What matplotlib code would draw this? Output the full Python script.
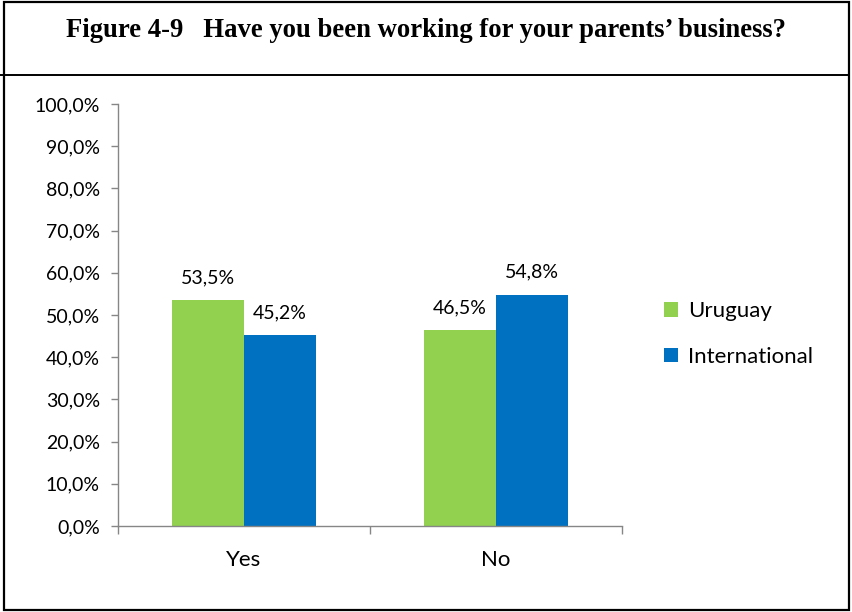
import matplotlib
matplotlib.use("Agg")
import matplotlib.pyplot as plt
from matplotlib.patches import Rectangle
from matplotlib.lines import Line2D
import numpy as np

categories = ["Yes", "No"]
uruguay = [53.5, 46.5]
international = [45.2, 54.8]
series_names = ["Uruguay", "International"]
yticks = [0, 10, 20, 30, 40, 50, 60, 70, 80, 90, 100]
title = "Figure 4-9   Have you been working for your parents\u2019 business?"

GREEN = "#92D050"
BLUE = "#0070C0"
AXIS = "#868686"
W, H = 852, 612

fig = plt.figure(figsize=(W / 100, H / 100), dpi=100)

# frame around the figure and the title strip
fig.add_artist(Rectangle((4 / W, 2 / H), (849 - 4) / W, (610 - 2) / H,
                         transform=fig.transFigure, fill=False,
                         edgecolor="black", linewidth=1.6))
fig.add_artist(Line2D([0 / W, 849 / W], [1 - 75 / H, 1 - 75 / H],
                      transform=fig.transFigure, color="black", linewidth=1.4))
fig.text(426 / W, 1 - 37 / H, title, ha="center", va="baseline",
         family="Liberation Serif", fontweight="bold", fontsize=19.2)

ax = fig.add_axes([118 / W, 1 - 526 / H, (622 - 118) / W, (526 - 104) / H])

x = np.arange(len(categories))
bw = 0.2857
b1 = ax.bar(x - bw / 2, uruguay, bw, color=GREEN, label=series_names[0])
b2 = ax.bar(x + bw / 2, international, bw, color=BLUE, label=series_names[1])

font = "Lato"
for bars, vals in ((b1, uruguay), (b2, international)):
    for r, v in zip(bars, vals):
        ax.annotate(f"{v:.1f}%".replace(".", ","),
                    (r.get_x() + r.get_width() / 2, v),
                    xytext=(0, 10), textcoords="offset points",
                    ha="center", va="bottom", family=font, fontsize=14,
                    color="black")

ax.set_xlim(-0.5, len(categories) - 0.5)
ax.set_ylim(0, 100)
ax.set_yticks(yticks)
ax.set_yticklabels([f"{t:.1f}%".replace(".", ",") for t in yticks],
                   family=font, fontsize=14)
ax.set_xticks(x)
ax.set_xticklabels(categories, family=font, fontsize=16)
ax.tick_params(axis="x", length=0, pad=17)
ax.tick_params(axis="y", length=5, color=AXIS, width=1, pad=8)
# category boundary ticks on the x-axis
ax.set_xticks([-0.5, 0.5, 1.5], minor=True)
ax.tick_params(axis="x", which="minor", length=6, color=AXIS, width=1)

for s in ("top", "right"):
    ax.spines[s].set_visible(False)
for s in ("left", "bottom"):
    ax.spines[s].set_color(AXIS)
    ax.spines[s].set_linewidth(1)

leg = fig.legend(handles=[b1, b2], labels=series_names,
                 loc="center left", bbox_to_anchor=(644 / W, 1 - 334 / H),
                 frameon=False, prop={"family": font, "size": 16},
                 handlelength=0.65, handleheight=0.65, handletextpad=0.45,
                 labelspacing=1.15)

fig.savefig("out.png", dpi=100)
